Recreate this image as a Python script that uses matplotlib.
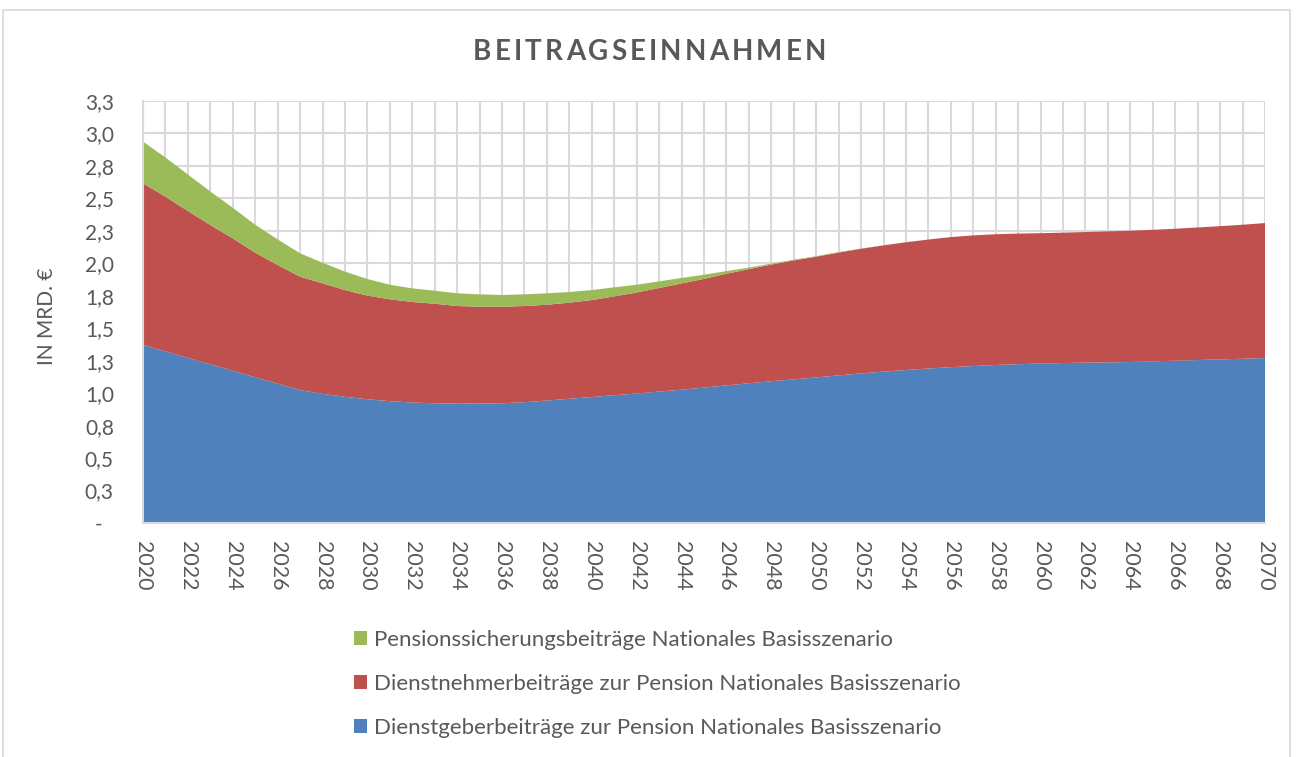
import matplotlib
matplotlib.use("Agg")
import matplotlib.pyplot as plt
from matplotlib.patches import Patch, Rectangle
from matplotlib.font_manager import FontProperties

# ---------------- data ----------------
years = list(range(2020, 2071))

dienstgeber = [1.371, 1.322, 1.272, 1.222, 1.173, 1.123, 1.073, 1.024, 0.995, 0.972,
               0.953, 0.938, 0.928, 0.922, 0.920, 0.920, 0.922, 0.930, 0.943, 0.957,
               0.970, 0.984, 0.997, 1.012, 1.027, 1.043, 1.060, 1.076, 1.092, 1.106,
               1.121, 1.137, 1.152, 1.166, 1.178, 1.190, 1.200, 1.209, 1.217, 1.223,
               1.228, 1.232, 1.235, 1.237, 1.240, 1.245, 1.250, 1.255, 1.260, 1.265,
               1.270]

dienstnehmer = [1.245, 1.191, 1.131, 1.073, 1.019, 0.959, 0.914, 0.873, 0.851, 0.822,
                0.798, 0.785, 0.774, 0.767, 0.751, 0.746, 0.744, 0.741, 0.738, 0.740,
                0.747, 0.761, 0.778, 0.798, 0.818, 0.837, 0.860, 0.879, 0.898, 0.916,
                0.930, 0.946, 0.960, 0.972, 0.984, 0.993, 1.002, 1.006, 1.007, 1.006,
                1.004, 1.004, 1.006, 1.009, 1.011, 1.013, 1.016, 1.021, 1.026, 1.032,
                1.040]

pensionssicherung = [0.321, 0.302, 0.281, 0.258, 0.236, 0.215, 0.197, 0.180, 0.159, 0.142,
                     0.128, 0.112, 0.105, 0.100, 0.098, 0.095, 0.090, 0.090, 0.088, 0.082,
                     0.077, 0.070, 0.060, 0.051, 0.042, 0.032, 0.020, 0.012, 0.008, 0.006,
                     0.004, 0.003, 0.002, 0.001, 0.001, 0.0, 0.0, 0.0, 0.0, 0.0,
                     0.0, 0.0, 0.0, 0.0, 0.0, 0.0, 0.0, 0.0, 0.0, 0.0,
                     0.0]

series_labels = [
    "Dienstgeberbeiträge zur Pension Nationales Basisszenario",
    "Dienstnehmerbeiträge zur Pension Nationales Basisszenario",
    "Pensionssicherungsbeiträge Nationales Basisszenario",
]
series_colors = ["#4F81BD", "#C0504D", "#9BBB59"]

title_text = "BEITRAGSEINNAHMEN"
ylabel_text = "IN MRD. €"
ytick_values = [0, 0.25, 0.5, 0.75, 1.0, 1.25, 1.5, 1.75, 2.0, 2.25, 2.5, 2.75, 3.0, 3.25]
ytick_labels = ["-  ", "0,3", "0,5", "0,8", "1,0", "1,3", "1,5", "1,8", "2,0", "2,3",
                "2,5", "2,8", "3,0", "3,3"]
xtick_years = list(range(2020, 2071, 2))

# ---------------- style ----------------
plt.rcParams['font.family'] = ['Lato', 'DejaVu Sans']
TXT = "#595959"
GRID = "#d9d9d9"
W, H = 1298, 757

fig = plt.figure(figsize=(W / 100, H / 100), dpi=100)
fig.patch.set_facecolor("white")

ax = fig.add_axes([143 / W, 1 - 523 / H, 1122 / W, 422 / H])
ax.stackplot(years, dienstgeber, dienstnehmer, pensionssicherung,
             colors=series_colors, labels=series_labels, linewidth=0, zorder=2)

ax.set_xlim(years[0], years[-1])
ax.set_ylim(0, 3.25)

ax.set_xticks(xtick_years)
ax.set_xticks(years, minor=True)
ax.set_xticklabels([str(y) for y in xtick_years], rotation=270,
                   ha="center", va="top", fontsize=15.5, color=TXT)
ax.set_yticks(ytick_values)
ax.set_yticklabels(ytick_labels, fontsize=15, color=TXT)

ax.tick_params(axis="x", which="both", length=0, pad=13)
ax.tick_params(axis="y", which="both", length=0, pad=21)

ax.grid(axis="x", which="both", color=GRID, linewidth=1.5, zorder=0)
ax.grid(axis="y", which="major", color=GRID, linewidth=1.5, zorder=0)
ax.set_axisbelow(True)

for s in ["top", "right"]:
    ax.spines[s].set_visible(False)
for s in ["left", "bottom"]:
    ax.spines[s].set_color(GRID)
    ax.spines[s].set_linewidth(1.5)
    ax.spines[s].set_zorder(3)

ax.set_ylabel(ylabel_text, fontsize=15, color=TXT)
ax.yaxis.set_label_coords((57 - 143) / 1122, 0.49)

# outer chart border
fig.add_artist(Rectangle((3 / W, -0.1), (1290 - 3) / W, 1.1 - 10 / H,
                         transform=fig.transFigure, fill=False,
                         edgecolor=GRID, linewidth=1.2))

# title with letter spacing
fig.canvas.draw()
renderer = fig.canvas.get_renderer()
fp = FontProperties(family=['Lato', 'DejaVu Sans'], weight='bold', size=20)
widths = []
for ch in title_text:
    t = fig.text(0, 0, ch, fontproperties=fp)
    widths.append(t.get_window_extent(renderer).width)
    t.remove()
target_w = 353.0
gap = (target_w - sum(widths)) / (len(title_text) - 1)
xpos = 649.5 - target_w / 2
for ch, w in zip(title_text, widths):
    fig.text(xpos / W, 1 - 60 / H, ch, fontproperties=fp, color=TXT,
             ha="left", va="baseline")
    xpos += w + gap

# legend (reverse order as in reference)
handles = [Patch(facecolor=c, edgecolor="none") for c in series_colors][::-1]
leg = fig.legend(handles, series_labels[::-1], loc="upper left",
                 bbox_to_anchor=(354 / W, 1 - 630 / H), frameon=False,
                 fontsize=16, labelcolor=TXT, handlelength=0.6, handleheight=0.6,
                 handletextpad=0.28, labelspacing=1.08, borderpad=0, borderaxespad=0)

fig.savefig("out.png", dpi=100, facecolor="white")
